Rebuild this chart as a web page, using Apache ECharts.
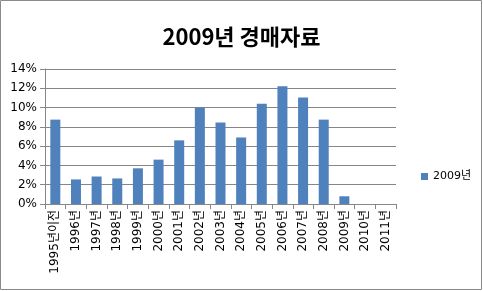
<!DOCTYPE html>
<html><head><meta charset="utf-8">
<script src="https://cdn.jsdelivr.net/npm/echarts@6/dist/echarts.min.js"></script>
<style>html,body{margin:0;padding:0;background:#fff}#c{width:483px;height:291px}</style>
</head><body><div id="c"></div>
<script>
const categories = ['1995년이전','1996년','1997년','1998년','1999년','2000년','2001년','2002년','2003년','2004년','2005년','2006년','2007년','2008년','2009년','2010년','2011년'];
const values = [8.75, 2.55, 2.85, 2.65, 3.7, 4.6, 6.6, 10.0, 8.45, 6.9, 10.4, 12.2, 11.05, 8.75, 0.8, 0, 0];
const yTicks = [0, 2, 4, 6, 8, 10, 12, 14];
const seriesName = '2009년';
const titleText = '2009년 경매자료';

const chart = echarts.init(document.getElementById('c'));
const font = 'Noto Sans CJK KR, sans-serif';
const lblFont = 'DejaVu Sans, Noto Sans CJK KR, sans-serif';
chart.setOption({
  animation: false,
  title: { text: titleText, left: 'center', top: 21,
    textStyle: { fontFamily: font, fontSize: 22, fontWeight: 'bold', color: '#000' } },
  graphic: [{ type: 'rect', shape: { x: 0.5, y: 0.5, width: 481, height: 289 },
    style: { fill: 'none', stroke: '#8a8a8a', lineWidth: 1 } }],
  legend: { data: [seriesName], left: 416, top: 166, itemWidth: 7, itemHeight: 7, itemGap: 4,
    icon: 'rect', textStyle: { fontFamily: lblFont, fontSize: 11, color: '#000' } },
  grid: { left: 45, right: 87, top: 69, bottom: 87, containLabel: false },
  xAxis: { type: 'category', data: categories,
    axisLine: { lineStyle: { color: '#868686' } },
    axisTick: { show: true, alignWithLabel: false, length: 5, lineStyle: { color: '#868686' } },
    axisLabel: { rotate: 90, interval: 0, fontFamily: lblFont, fontSize: 12, color: '#000', margin: 6 } },
  yAxis: { type: 'value', min: 0, max: 14, interval: 2,
    axisLine: { show: true, lineStyle: { color: '#868686' } },
    axisTick: { show: true, length: 5, lineStyle: { color: '#868686' } },
    splitLine: { lineStyle: { color: '#868686' } },
    axisLabel: { fontFamily: lblFont, fontSize: 12, color: '#000', margin: 8,
      formatter: v => yTicks.includes(v) ? v + '%' : '' } },
  series: [{ name: seriesName, type: 'bar', data: values, barWidth: 10,
    itemStyle: { color: '#4f81bd' } }]
});
</script></body></html>
